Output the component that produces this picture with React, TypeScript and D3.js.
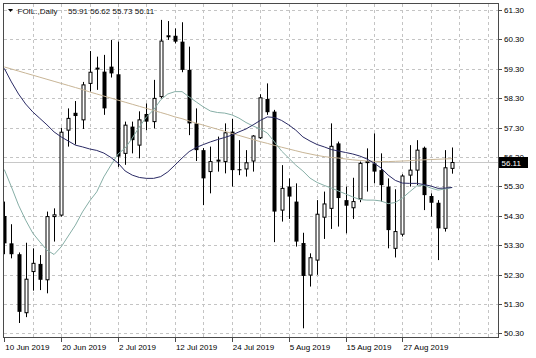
import React from "react";
import * as d3 from "d3";

// ---- data ----
const opens = [54.29,53.36,52.99,51.00,52.40,52.66,52.12,54.27,54.32,57.21,57.80,57.56,58.80,59.30,59.20,59.37,59.11,56.42,57.33,56.70,57.76,57.50,58.35,60.40,60.42,60.22,59.26,57.44,56.53,55.80,56.17,56.14,57.16,55.88,55.89,56.16,56.95,58.27,57.84,54.49,55.29,54.78,53.37,52.28,52.79,54.25,54.55,56.76,54.83,54.57,54.87,56.12,56.08,55.85,55.29,53.19,53.67,55.68,55.85,56.61,54.97,54.74,53.87,55.91];
const highs = [54.78,54.01,53.05,53.38,53.19,52.96,54.44,54.55,57.29,57.95,58.20,58.85,59.90,59.71,59.77,60.28,60.22,57.50,57.50,57.85,58.12,58.92,60.96,60.92,60.67,60.88,60.05,57.95,56.60,56.65,56.99,57.44,57.59,56.87,56.53,57.04,58.43,58.80,57.90,56.02,55.57,55.40,53.72,53.02,54.83,55.12,57.44,56.82,55.29,55.59,56.14,56.59,57.10,56.42,55.57,55.20,55.71,56.70,56.87,56.65,55.06,54.83,56.53,56.62];
const lows = [52.99,52.85,50.65,50.85,51.75,51.77,51.66,53.42,54.27,56.65,56.72,57.25,58.52,58.58,57.73,59.00,55.96,56.03,56.42,56.25,57.21,57.27,58.29,60.28,60.16,59.18,57.04,56.16,54.66,55.06,55.80,55.74,55.29,55.68,55.63,55.80,56.91,57.73,53.40,54.10,54.19,53.25,50.47,51.89,52.29,53.51,53.85,53.93,53.70,54.19,54.76,55.12,55.40,54.78,53.19,52.88,53.59,55.29,55.34,54.49,54.27,52.79,53.76,55.73];
const closes = [53.36,52.99,51.03,52.14,52.68,52.12,54.27,54.33,57.14,57.61,57.69,58.75,59.18,59.32,57.95,59.14,56.31,57.38,56.87,57.56,57.50,58.29,60.24,60.42,60.22,59.26,57.44,56.53,55.57,56.14,56.19,57.12,55.85,55.85,56.10,57.01,58.31,57.82,54.44,55.23,54.95,53.42,52.25,52.87,54.35,54.70,56.66,54.90,54.64,54.78,56.08,56.14,55.80,55.34,53.81,53.76,55.65,55.85,56.53,55.00,54.74,53.87,55.93,56.11];

// moving averages
const maSlow = [59.36,59.29,59.22,59.15,59.08,59.01,58.94,58.87,58.80,58.73,58.66,58.59,58.51,58.44,58.37,58.30,58.23,58.16,58.09,58.02,57.95,57.88,57.81,57.74,57.66,57.60,57.52,57.45,57.38,57.31,57.24,57.17,57.10,57.03,56.96,56.89,56.82,56.76,56.69,56.63,56.57,56.51,56.45,56.40,56.35,56.31,56.28,56.26,56.23,56.20,56.18,56.16,56.15,56.14,56.14,56.15,56.16,56.17,56.19,56.20,56.21,56.22,56.23,56.24];
const maMid = [59.31,58.85,58.44,58.10,57.83,57.61,57.39,57.15,56.98,56.84,56.70,56.64,56.57,56.52,56.43,56.28,56.09,55.82,55.68,55.60,55.57,55.57,55.63,55.79,56.02,56.26,56.48,56.62,56.72,56.81,56.89,56.96,57.04,57.15,57.25,57.39,57.54,57.66,57.64,57.54,57.39,57.21,56.98,56.84,56.72,56.64,56.55,56.50,56.45,56.40,56.33,56.23,56.09,55.92,55.68,55.50,55.41,55.40,55.40,55.36,55.31,55.23,55.24,55.26];
const maFast = [55.87,55.28,54.66,54.15,53.71,53.41,53.13,52.98,53.24,53.61,53.98,54.43,54.80,55.11,55.62,56.02,56.40,56.60,56.94,57.32,57.66,57.90,58.24,58.44,58.52,58.52,58.34,58.17,58.00,57.86,57.81,57.79,57.73,57.62,57.47,57.35,57.25,57.11,56.81,56.50,56.26,56.02,55.82,55.58,55.43,55.33,55.24,55.14,55.04,54.94,54.85,54.83,54.83,54.80,54.71,54.75,54.90,55.11,55.31,55.34,55.24,55.17,55.21,55.26];

const yTicks = [61.3, 60.3, 59.3, 58.3, 57.3, 56.3, 55.3, 54.3, 53.3, 52.3, 51.3, 50.3];
const xLabelIdx = [0, 8, 16, 24, 32, 40, 48, 56];
const xLabels = ["10 Jun 2019", "20 Jun 2019", "2 Jul 2019", "12 Jul 2019", "24 Jul 2019", "5 Aug 2019", "15 Aug 2019", "27 Aug 2019"];
const gridIdx = [4, 8, 12, 16, 20, 24, 28, 32, 36, 40, 44, 48, 52, 56, 60, 64, 68];
const symbol = "FOIL.,Daily";
const lastPrice = 56.11;

const FONT = "'Liberation Sans', Arial, sans-serif";

export default function App() {
  const W = 536, H = 358;
  const left = 3.5, right = 498.5, top = 3.5, bottom = 337.5;
  const x = d3.scaleLinear().domain([0, 63]).range([4.3, 452.2]);
  const y = d3.scaleLinear().domain([50.3, 61.3]).range([333.3, 9.9]);
  const px = (v: number) => Math.round(v) + 0.5;

  const line = (arr: number[]) =>
    d3.line<number>().x((_, i) => x(i)).y((d) => y(d)).curve(d3.curveLinear)(arr) || "";

  const lastY = px(y(lastPrice));

  return (
    <svg width={W} height={H} style={{ position: "absolute", left: 0, top: 0, background: "#fff" }} fontFamily={FONT}>
      <rect x={0} y={0} width={W} height={H} fill="#fff" />
      <defs>
        <clipPath id="plot">
          <rect x={left} y={top} width={right - left} height={bottom - top} />
        </clipPath>
      </defs>
      {/* grid */}
      <g stroke="#c4c4c4" strokeWidth={1} strokeDasharray="3,3" shapeRendering="crispEdges">
        {yTicks.map((t) => (
          <line key={"h" + t} x1={left} x2={right} y1={px(y(t))} y2={px(y(t))} />
        ))}
        {gridIdx.filter((i) => x(i) < right).map((i) => (
          <line key={"v" + i} x1={px(x(i))} x2={px(x(i))} y1={top} y2={bottom} />
        ))}
      </g>
      {/* last price line */}
      <line x1={left} x2={right} y1={lastY} y2={lastY} stroke="#c8c8c8" strokeWidth={1} shapeRendering="crispEdges" />
      <g clipPath="url(#plot)">
        {/* candles */}
        {opens.map((o, i) => {
          const c = closes[i];
          const cx = px(x(i));
          const up = c >= o;
          const yt = y(Math.max(o, c));
          const yb = y(Math.min(o, c));
          const h = Math.max(1, yb - yt);
          return (
            <g key={"c" + i}>
              <line x1={cx} x2={cx} y1={y(highs[i])} y2={y(lows[i])} stroke="#000" strokeWidth={1} />
              {up ? (
                <rect x={cx - 1.5} y={yt} width={3} height={h} fill="#fff" stroke="#000" strokeWidth={1} />
              ) : (
                <rect x={cx - 2} y={yt} width={4} height={h} fill="#000" />
              )}
            </g>
          );
        })}
        {/* moving averages */}
        <path d={line(maSlow)} fill="none" stroke="#c8b596" strokeWidth={1} />
        <path d={line(maFast)} fill="none" stroke="#86aea6" strokeWidth={1} />
        <path d={line(maMid)} fill="none" stroke="#2a2a64" strokeWidth={1} />
      </g>
      {/* frame */}
      <rect x={left} y={top} width={right - left} height={bottom - top} fill="none" stroke="#4a4a4a" strokeWidth={1} shapeRendering="crispEdges" />
      {/* right axis */}
      <g fontSize={8} fill="#000">
        {yTicks.map((t) => (
          <g key={"yl" + t}>
            <line x1={right} x2={right + 3} y1={px(y(t))} y2={px(y(t))} stroke="#4a4a4a" shapeRendering="crispEdges" />
            <text x={504} y={y(t) + 3}>{t.toFixed(2)}</text>
          </g>
        ))}
      </g>
      {/* current price tag */}
      <rect x={499} y={lastY - 5.5} width={29} height={11} fill="#000" />
      <text x={501.5} y={lastY + 3} fontSize={8} fill="#fff">{lastPrice.toFixed(2)}</text>
      {/* bottom axis */}
      <g fontSize={8} fill="#000">
        {xLabelIdx.map((idx, k) => (
          <g key={"xl" + idx}>
            <line x1={px(x(idx))} x2={px(x(idx))} y1={bottom} y2={bottom + 4} stroke="#4a4a4a" shapeRendering="crispEdges" />
            <text x={x(idx) + 1} y={349.5}>{xLabels[k]}</text>
          </g>
        ))}
      </g>
      {/* header */}
      <path d="M8,9 L13,9 L10.5,12 Z" fill="#000" />
      <text x={17.5} y={13.5} fontSize={8} fill="#111">{symbol}</text>
      <text x={68} y={13.5} fontSize={8} fill="#111">
        {[opens[63], highs[63], lows[63], closes[63]].map((v) => v.toFixed(2)).join(" ")}
      </text>
    </svg>
  );
}
